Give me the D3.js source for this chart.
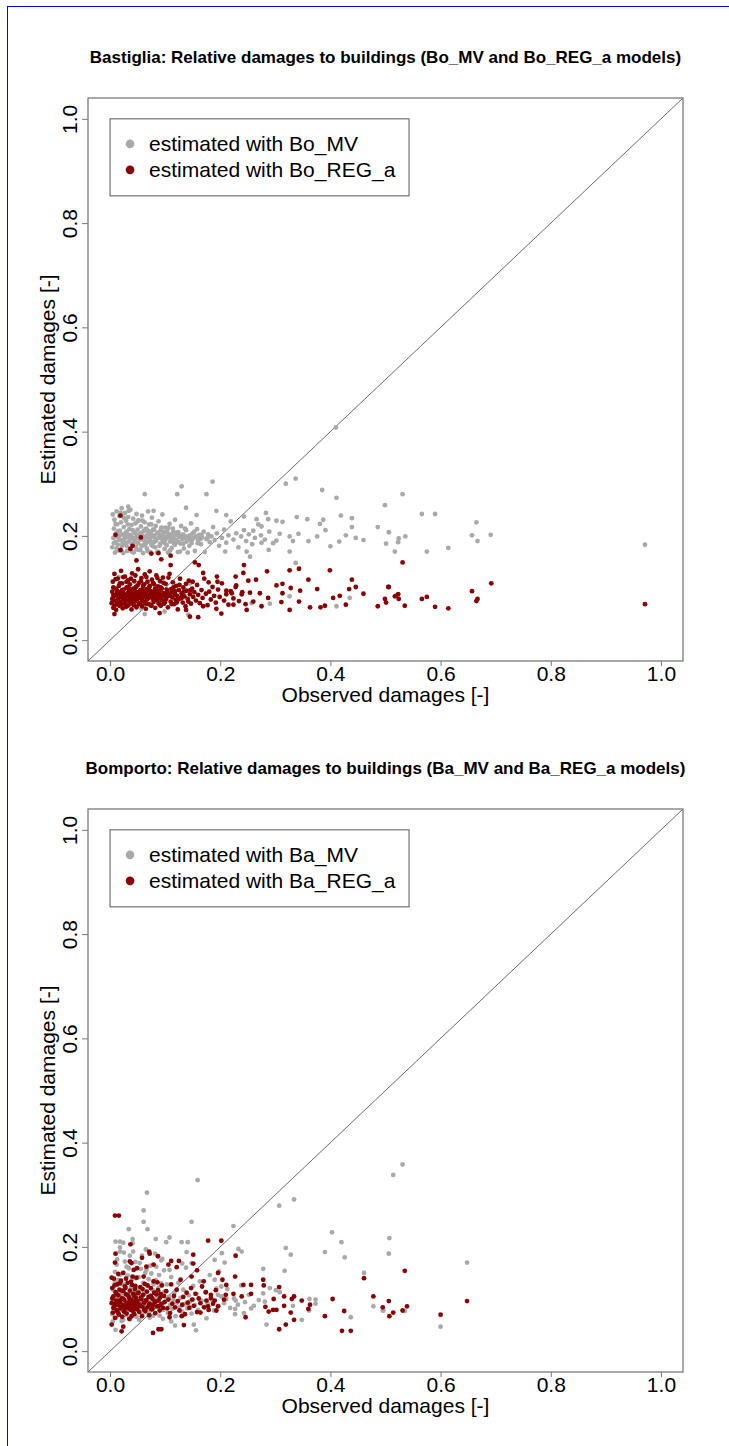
<!DOCTYPE html>
<html>
<head>
<meta charset="utf-8">
<script src="https://cdn.jsdelivr.net/npm/d3@7"></script>
<style>
  body { margin: 0; background: #fff; }
  svg text { font-family: "Liberation Sans", Arial, sans-serif; fill: #000; }
</style>
</head>
<body>
<div id="chart"></div>
<script>
// Bastiglia panel: observed vs estimated relative damage
const boMvPoints = [
  [0.004,0.178],[0.006,0.196],[0.007,0.214],[0.008,0.231],[0.009,0.168],[0.010,0.188],[0.011,0.205],[0.012,0.247],[0.013,0.222],[0.014,0.183],
  [0.015,0.199],[0.016,0.172],[0.017,0.238],[0.018,0.210],[0.019,0.192],[0.020,0.226],[0.021,0.253],[0.022,0.181],[0.023,0.203],[0.024,0.167],
  [0.025,0.217],[0.026,0.194],[0.027,0.244],[0.028,0.186],[0.029,0.229],[0.030,0.208],[0.031,0.171],[0.032,0.198],[0.033,0.236],[0.034,0.189],
  [0.035,0.213],[0.036,0.176],[0.037,0.250],[0.038,0.201],[0.039,0.221],[0.040,0.184],[0.041,0.195],[0.042,0.233],[0.043,0.168],[0.044,0.207],
  [0.045,0.190],[0.046,0.224],[0.047,0.179],[0.048,0.242],[0.049,0.198],[0.050,0.212],[0.051,0.186],[0.052,0.230],[0.053,0.173],[0.054,0.204],
  [0.055,0.193],[0.056,0.218],[0.057,0.181],[0.058,0.239],[0.059,0.200],[0.060,0.167],[0.061,0.209],[0.062,0.191],[0.063,0.226],[0.064,0.184],
  [0.065,0.197],[0.066,0.214],[0.067,0.176],[0.068,0.203],[0.069,0.247],[0.070,0.189],[0.071,0.222],[0.072,0.195],[0.073,0.169],[0.074,0.207],
  [0.075,0.183],[0.076,0.235],[0.077,0.199],[0.078,0.212],[0.079,0.188],[0.080,0.201],[0.082,0.178],[0.083,0.219],[0.084,0.193],[0.086,0.206],
  [0.087,0.170],[0.088,0.228],[0.089,0.196],[0.091,0.185],[0.092,0.211],[0.093,0.199],[0.095,0.241],[0.096,0.188],[0.097,0.204],[0.099,0.175],
  [0.100,0.216],[0.101,0.194],[0.103,0.182],[0.104,0.208],[0.105,0.168],[0.107,0.197],[0.108,0.223],[0.109,0.189],[0.111,0.203],[0.112,0.177],
  [0.114,0.214],[0.115,0.195],[0.116,0.186],[0.118,0.231],[0.119,0.201],[0.121,0.192],[0.123,0.169],[0.124,0.207],[0.126,0.198],[0.128,0.185],
  [0.129,0.219],[0.131,0.194],[0.133,0.203],[0.134,0.176],[0.136,0.197],[0.138,0.211],[0.139,0.189],[0.141,0.168],[0.143,0.200],[0.145,0.193],
  [0.147,0.224],[0.148,0.186],[0.150,0.205],[0.152,0.196],[0.154,0.171],[0.156,0.199],[0.158,0.213],[0.160,0.191],[0.162,0.202],[0.165,0.184],
  [0.167,0.197],[0.170,0.208],[0.172,0.169],[0.175,0.194],[0.178,0.203],[0.181,0.188],[0.184,0.199],[0.187,0.217],[0.190,0.192],[0.194,0.205],
  [0.198,0.181],[0.009,0.199],[0.018,0.201],[0.027,0.197],[0.035,0.202],[0.044,0.196],[0.053,0.200],[0.062,0.198],[0.071,0.203],[0.081,0.197],
  [0.090,0.200],[0.098,0.195],[0.106,0.201],[0.113,0.198],[0.125,0.200],[0.137,0.196],[0.146,0.201],[0.157,0.198],[0.166,0.202],[0.177,0.196],
  [0.005,0.241],[0.007,0.186],[0.010,0.223],[0.012,0.176],[0.014,0.209],[0.016,0.193],[0.019,0.244],[0.021,0.171],[0.023,0.186],[0.025,0.235],
  [0.028,0.205],[0.030,0.181],[0.032,0.222],[0.034,0.248],[0.036,0.194],[0.039,0.170],[0.041,0.211],[0.043,0.187],[0.046,0.205],[0.048,0.174],
  [0.050,0.228],[0.052,0.195],[0.055,0.173],[0.057,0.206],[0.059,0.229],[0.061,0.182],[0.064,0.213],[0.066,0.188],[0.068,0.171],[0.070,0.209],
  [0.073,0.192],[0.075,0.222],[0.078,0.180],[0.080,0.212],[0.083,0.190],[0.085,0.168],[0.088,0.205],[0.090,0.181],[0.093,0.216],[0.095,0.193],
  [0.098,0.207],[0.100,0.186],[0.103,0.198],[0.106,0.215],[0.109,0.172],[0.112,0.193],[0.115,0.208],[0.118,0.183],[0.121,0.206],[0.124,0.188],
  [0.127,0.170],[0.130,0.201],[0.133,0.185],[0.136,0.214],[0.140,0.199],[0.144,0.181],[0.149,0.193],[0.153,0.208],[0.159,0.186],[0.164,0.194],
  [0.203,0.196],[0.207,0.212],[0.211,0.187],[0.215,0.201],[0.219,0.228],[0.224,0.193],[0.229,0.205],[0.233,0.178],[0.238,0.199],[0.243,0.211],
  [0.247,0.190],[0.252,0.203],[0.258,0.184],[0.263,0.196],[0.269,0.222],[0.274,0.201],[0.281,0.193],[0.289,0.208],[0.296,0.186],
  [0.410,0.408],[0.186,0.304],[0.130,0.295],[0.063,0.280],[0.122,0.280],[0.175,0.280],[0.319,0.300],[0.337,0.310],[0.385,0.288],[0.411,0.273],
  [0.033,0.256],[0.138,0.254],[0.193,0.248],[0.079,0.248],[0.283,0.244],[0.243,0.237],[0.211,0.240],[0.157,0.240],[0.266,0.232],[0.287,0.232],
  [0.302,0.229],[0.313,0.227],[0.339,0.236],[0.358,0.232],[0.387,0.231],[0.419,0.239],[0.439,0.234],[0.381,0.223],[0.486,0.217],[0.439,0.217],
  [0.391,0.211],[0.275,0.218],[0.260,0.210],[0.308,0.204],[0.326,0.199],[0.342,0.204],[0.376,0.199],[0.428,0.201],[0.446,0.196],[0.460,0.192],
  [0.360,0.190],[0.332,0.190],[0.302,0.191],[0.275,0.187],[0.416,0.189],[0.400,0.180],[0.326,0.170],[0.288,0.173],[0.248,0.170],[0.209,0.170],
  [0.254,0.160],[0.337,0.148],[0.063,0.050],[0.099,0.055],[0.142,0.049],[0.145,0.109],[0.257,0.071],[0.290,0.070],[0.326,0.084],[0.411,0.065],
  [0.435,0.081],[0.016,0.121],[0.057,0.060],
  [0.499,0.259],[0.531,0.280],[0.566,0.242],[0.590,0.242],[0.665,0.226],[0.506,0.207],[0.501,0.185],[0.524,0.195],[0.523,0.188],[0.536,0.199],
  [0.517,0.170],[0.575,0.170],[0.614,0.177],[0.657,0.201],[0.667,0.190],[0.691,0.202],[0.971,0.183]
];
const boRegPoints = [
  [0.003,0.071],[0.004,0.093],[0.005,0.112],[0.006,0.062],[0.007,0.084],[0.008,0.127],[0.009,0.076],[0.010,0.099],[0.011,0.058],[0.012,0.088],
  [0.013,0.069],[0.014,0.118],[0.015,0.081],[0.016,0.104],[0.017,0.066],[0.018,0.091],[0.019,0.074],[0.020,0.133],[0.021,0.086],[0.022,0.109],
  [0.023,0.061],[0.024,0.079],[0.025,0.097],[0.026,0.070],[0.027,0.122],[0.028,0.083],[0.029,0.064],[0.030,0.101],[0.031,0.077],[0.032,0.090],
  [0.033,0.115],[0.034,0.068],[0.035,0.085],[0.036,0.107],[0.037,0.073],[0.038,0.095],[0.039,0.059],[0.040,0.128],[0.041,0.082],[0.042,0.099],
  [0.043,0.067],[0.044,0.113],[0.045,0.088],[0.046,0.075],[0.047,0.102],[0.048,0.063],[0.049,0.092],[0.050,0.079],[0.051,0.136],[0.052,0.086],
  [0.053,0.110],[0.054,0.071],[0.055,0.096],[0.056,0.081],[0.057,0.119],[0.058,0.065],[0.059,0.089],[0.060,0.104],[0.061,0.074],[0.062,0.093],
  [0.063,0.126],[0.064,0.083],[0.065,0.060],[0.066,0.098],[0.067,0.078],[0.068,0.112],[0.069,0.087],[0.070,0.069],[0.071,0.101],[0.072,0.132],
  [0.073,0.084],[0.074,0.094],[0.075,0.066],[0.076,0.116],[0.077,0.080],[0.078,0.091],[0.079,0.073],[0.080,0.107],[0.081,0.085],[0.082,0.062],
  [0.083,0.097],[0.084,0.124],[0.085,0.077],[0.086,0.089],[0.087,0.103],[0.088,0.071],[0.089,0.094],[0.090,0.082],[0.091,0.113],[0.092,0.066],
  [0.093,0.087],[0.094,0.099],[0.095,0.076],[0.096,0.120],[0.097,0.090],[0.098,0.070],[0.099,0.084],[0.101,0.108],[0.102,0.079],[0.104,0.093],
  [0.105,0.063],[0.107,0.086],[0.108,0.127],[0.110,0.074],[0.111,0.098],[0.113,0.082],[0.114,0.111],[0.116,0.069],[0.117,0.091],[0.119,0.077],
  [0.120,0.104],[0.122,0.085],[0.123,0.059],[0.125,0.096],[0.127,0.118],[0.128,0.080],[0.130,0.090],[0.132,0.072],[0.133,0.101],[0.135,0.084],
  [0.137,0.065],[0.139,0.095],[0.141,0.079],[0.143,0.114],[0.145,0.088],[0.147,0.070],[0.149,0.099],[0.151,0.083],[0.153,0.092],[0.156,0.076],
  [0.158,0.106],[0.160,0.087],[0.163,0.071],[0.166,0.096],[0.168,0.081],[0.171,0.118],[0.174,0.089],[0.177,0.067],[0.180,0.093],[0.183,0.078],
  [0.186,0.102],[0.189,0.085],[0.192,0.072],[0.196,0.097],[0.199,0.083],[0.203,0.109],[0.207,0.076],[0.211,0.088],[0.215,0.068],[0.219,0.094],
  [0.224,0.080],[0.229,0.105],[0.234,0.075],[0.240,0.092],[0.246,0.069],
  [0.006,0.087],[0.013,0.095],[0.019,0.083],[0.024,0.090],[0.029,0.086],[0.034,0.094],[0.041,0.078],[0.046,0.091],[0.053,0.084],[0.058,0.097],
  [0.064,0.089],[0.069,0.080],[0.074,0.088],[0.081,0.095],[0.087,0.083],[0.093,0.078],[0.100,0.090],[0.106,0.085],[0.112,0.092],[0.118,0.087],
  [0.124,0.078],[0.131,0.086],
  [0.004,0.079],[0.006,0.101],[0.008,0.066],[0.010,0.117],[0.012,0.074],[0.014,0.092],[0.016,0.083],[0.018,0.109],[0.020,0.068],[0.022,0.096],
  [0.024,0.121],[0.026,0.087],[0.028,0.074],[0.030,0.112],[0.032,0.066],[0.034,0.101],[0.036,0.080],[0.038,0.118],[0.040,0.089],[0.042,0.071],
  [0.044,0.097],[0.046,0.124],[0.048,0.083],[0.050,0.105],[0.052,0.069],[0.054,0.092],[0.056,0.113],[0.058,0.078],[0.060,0.088],[0.062,0.107],
  [0.064,0.070],[0.066,0.121],[0.068,0.095],[0.070,0.083],[0.072,0.104],[0.074,0.067],[0.076,0.091],[0.078,0.110],[0.080,0.077],[0.082,0.099],
  [0.084,0.086],[0.086,0.119],[0.088,0.093],[0.090,0.068],[0.092,0.101],[0.095,0.086],[0.097,0.110],[0.100,0.073],[0.103,0.097],[0.106,0.120],
  [0.109,0.088],[0.112,0.069],[0.115,0.101],[0.118,0.094],[0.121,0.072],[0.126,0.106],[0.130,0.081],[0.134,0.093],[0.138,0.108],[0.142,0.074],
  [0.146,0.096],[0.150,0.112],
  [0.019,0.239],[0.010,0.202],[0.056,0.197],[0.019,0.173],[0.037,0.175],[0.041,0.181],[0.075,0.166],[0.088,0.167],[0.048,0.153],[0.093,0.155],
  [0.110,0.162],[0.154,0.149],[0.161,0.144],[0.110,0.144],[0.243,0.144],[0.285,0.132],[0.326,0.134],[0.343,0.137],[0.399,0.134],[0.242,0.129],
  [0.228,0.122],[0.194,0.122],[0.169,0.129],[0.179,0.111],[0.195,0.112],[0.251,0.114],[0.265,0.116],[0.302,0.105],[0.313,0.108],[0.328,0.100],
  [0.360,0.116],[0.376,0.098],[0.439,0.116],[0.434,0.098],[0.446,0.102],[0.460,0.089],[0.505,0.102],[0.211,0.095],[0.228,0.102],[0.221,0.090],
  [0.239,0.088],[0.254,0.091],[0.272,0.090],[0.287,0.081],[0.313,0.090],[0.345,0.095],[0.343,0.074],[0.311,0.073],[0.326,0.058],[0.363,0.063],
  [0.382,0.063],[0.390,0.066],[0.405,0.081],[0.417,0.085],[0.428,0.068],[0.486,0.065],[0.519,0.085],[0.260,0.074],[0.275,0.065],[0.248,0.058],
  [0.193,0.060],[0.202,0.051],[0.160,0.044],[0.145,0.045],[0.138,0.058],[0.169,0.065],[0.008,0.050],[0.090,0.052],[0.224,0.068],
  [0.531,0.149],[0.506,0.102],[0.692,0.109],[0.657,0.094],[0.499,0.079],[0.501,0.072],[0.517,0.084],[0.523,0.088],[0.524,0.079],[0.535,0.066],
  [0.566,0.079],[0.575,0.083],[0.590,0.064],[0.614,0.061],[0.665,0.075],[0.667,0.079],[0.971,0.069]
];

// Bomporto panel
const baMvPoints = [
  [0.004,0.071],[0.006,0.118],[0.008,0.093],[0.009,0.152],[0.011,0.064],[0.012,0.105],[0.014,0.083],[0.015,0.136],[0.017,0.077],[0.018,0.199],
  [0.020,0.112],[0.021,0.058],[0.023,0.094],[0.024,0.128],[0.026,0.086],[0.027,0.172],[0.029,0.069],[0.030,0.108],[0.032,0.145],[0.033,0.081],
  [0.035,0.099],[0.036,0.061],[0.038,0.123],[0.039,0.090],[0.041,0.207],[0.042,0.074],[0.044,0.114],[0.045,0.097],[0.047,0.140],[0.048,0.066],
  [0.050,0.087],[0.051,0.119],[0.053,0.078],[0.054,0.101],[0.056,0.158],[0.057,0.092],[0.059,0.070],[0.060,0.131],[0.062,0.084],[0.063,0.110],
  [0.065,0.195],[0.066,0.075],[0.068,0.098],[0.069,0.125],[0.071,0.088],[0.072,0.064],[0.074,0.106],[0.075,0.149],[0.077,0.082],[0.078,0.117],
  [0.080,0.093],[0.082,0.072],[0.083,0.136],[0.085,0.101],[0.087,0.086],[0.088,0.122],[0.090,0.068],[0.092,0.109],[0.094,0.091],[0.095,0.177],
  [0.097,0.079],[0.099,0.114],[0.101,0.097],[0.103,0.128],[0.105,0.073],[0.107,0.104],[0.109,0.088],[0.111,0.142],[0.113,0.081],[0.115,0.099],
  [0.117,0.112],[0.119,0.067],[0.121,0.093],[0.124,0.131],[0.126,0.084],[0.128,0.102],[0.131,0.076],[0.133,0.118],[0.135,0.090],[0.138,0.160],
  [0.140,0.082],[0.143,0.107],[0.145,0.095],[0.148,0.072],[0.151,0.125],[0.154,0.088],[0.157,0.110],[0.160,0.079],[0.163,0.134],[0.166,0.097],
  [0.170,0.085],[0.173,0.113],[0.177,0.091],[0.181,0.146],[0.185,0.099],[0.189,0.078],[0.193,0.120],[0.197,0.087],[0.202,0.105],[0.207,0.092],
  [0.213,0.119],[0.218,0.083],[0.225,0.101],[0.232,0.089],[0.238,0.126],[0.245,0.094],[0.252,0.108],[0.261,0.087],[0.270,0.098],
  [0.005,0.098],[0.009,0.131],[0.013,0.176],[0.016,0.088],[0.019,0.147],[0.022,0.105],[0.025,0.189],[0.028,0.124],[0.031,0.076],[0.034,0.159],
  [0.037,0.107],[0.040,0.138],[0.043,0.085],[0.046,0.171],[0.049,0.112],[0.052,0.142],[0.055,0.095],[0.058,0.183],[0.061,0.116],[0.064,0.150],
  [0.067,0.090],[0.070,0.138],[0.073,0.164],[0.076,0.099],[0.079,0.128],[0.082,0.187],[0.086,0.110],[0.089,0.146],[0.093,0.130],[0.098,0.155],
  [0.159,0.328],[0.067,0.304],[0.061,0.270],[0.061,0.248],[0.068,0.234],[0.148,0.248],[0.034,0.234],[0.224,0.240],[0.307,0.279],[0.334,0.291],
  [0.403,0.228],[0.420,0.209],[0.390,0.190],[0.426,0.180],[0.319,0.198],[0.328,0.185],[0.317,0.154],[0.461,0.150],[0.278,0.158],[0.233,0.196],
  [0.239,0.191],[0.203,0.188],[0.190,0.175],[0.208,0.170],[0.139,0.190],[0.131,0.168],[0.102,0.209],[0.108,0.218],[0.130,0.209],[0.141,0.209],
  [0.083,0.215],[0.010,0.210],[0.018,0.210],[0.024,0.208],[0.041,0.215],[0.036,0.183],[0.042,0.191],[0.018,0.191],[0.278,0.111],[0.284,0.051],
  [0.290,0.121],[0.301,0.117],[0.308,0.113],[0.281,0.095],[0.332,0.087],[0.348,0.060],[0.362,0.100],[0.373,0.099],[0.361,0.078],[0.373,0.091],
  [0.437,0.065],[0.478,0.086],[0.496,0.078],[0.243,0.073],[0.256,0.082],[0.227,0.081],[0.227,0.071],[0.228,0.097],[0.211,0.100],[0.175,0.063],
  [0.156,0.040],[0.152,0.051],[0.133,0.069],[0.118,0.049],[0.111,0.057],[0.096,0.062],[0.078,0.068],[0.053,0.060],[0.036,0.063],[0.024,0.060],
  [0.010,0.041],[0.005,0.057],[0.068,0.076],[0.143,0.086],[0.151,0.099],[0.196,0.108],[0.202,0.124],[0.198,0.153],[0.190,0.137],[0.148,0.169],
  [0.093,0.174],[0.108,0.156],[0.066,0.156],[0.054,0.169],[0.030,0.162],[0.012,0.166],[0.084,0.162],
  [0.531,0.358],[0.514,0.338],[0.507,0.217],[0.506,0.187],[0.648,0.170],[0.495,0.078],[0.535,0.077],[0.600,0.047]
];
const baRegPoints = [
  [0.003,0.092],[0.004,0.121],[0.005,0.074],[0.006,0.105],[0.007,0.139],[0.008,0.086],[0.009,0.064],[0.010,0.113],[0.011,0.097],[0.012,0.078],
  [0.013,0.128],[0.014,0.089],[0.015,0.107],[0.016,0.070],[0.017,0.118],[0.018,0.094],[0.019,0.082],[0.020,0.135],[0.021,0.101],[0.022,0.066],
  [0.023,0.088],[0.024,0.115],[0.025,0.076],[0.026,0.098],[0.027,0.124],[0.028,0.084],[0.029,0.109],[0.030,0.072],[0.031,0.093],[0.032,0.131],
  [0.033,0.086],[0.034,0.104],[0.035,0.062],[0.036,0.116],[0.037,0.090],[0.038,0.079],[0.039,0.099],[0.040,0.127],[0.041,0.083],[0.042,0.110],
  [0.043,0.095],[0.044,0.071],[0.045,0.119],[0.046,0.087],[0.047,0.102],[0.048,0.141],[0.049,0.080],[0.050,0.096],[0.052,0.112],[0.053,0.075],
  [0.054,0.089],[0.055,0.123],[0.057,0.100],[0.058,0.067],[0.059,0.085],[0.060,0.108],[0.062,0.093],[0.063,0.129],[0.064,0.077],[0.066,0.098],
  [0.067,0.114],[0.068,0.084],[0.070,0.104],[0.071,0.069],[0.072,0.091],[0.074,0.121],[0.075,0.080],[0.077,0.101],[0.078,0.088],[0.079,0.134],
  [0.081,0.095],[0.082,0.073],[0.084,0.109],[0.085,0.086],[0.087,0.117],[0.088,0.097],[0.090,0.078],[0.091,0.103],[0.093,0.090],[0.094,0.126],
  [0.096,0.083],[0.098,0.106],[0.099,0.094],[0.102,0.115],[0.104,0.082],[0.106,0.099],[0.109,0.073],[0.111,0.128],[0.113,0.091],[0.116,0.106],
  [0.118,0.084],[0.121,0.118],[0.123,0.096],[0.126,0.078],[0.128,0.137],[0.131,0.089],[0.133,0.104],[0.136,0.071],[0.139,0.112],[0.141,0.093],
  [0.144,0.083],[0.147,0.121],[0.149,0.099],[0.152,0.087],[0.155,0.110],[0.158,0.075],[0.161,0.101],[0.164,0.092],[0.167,0.124],[0.171,0.084],
  [0.175,0.097],[0.179,0.079],[0.183,0.108],[0.187,0.091],[0.192,0.117],[0.196,0.086],
  [0.004,0.101],[0.006,0.083],[0.008,0.126],[0.010,0.092],[0.012,0.110],[0.014,0.074],[0.016,0.097],[0.018,0.130],[0.020,0.085],[0.022,0.116],
  [0.024,0.100],[0.026,0.078],[0.028,0.121],[0.030,0.091],[0.032,0.108],[0.034,0.082],[0.036,0.099],[0.038,0.133],[0.040,0.092],[0.042,0.077],
  [0.044,0.106],[0.046,0.125],[0.048,0.094],[0.050,0.111],[0.053,0.086],[0.056,0.103],[0.059,0.119],[0.062,0.079],[0.065,0.097],[0.068,0.126],
  [0.071,0.089],[0.074,0.106],[0.077,0.081],[0.080,0.112],[0.083,0.095],[0.086,0.132],[0.089,0.087],[0.092,0.110],
  [0.009,0.260],[0.016,0.260],[0.037,0.205],[0.010,0.187],[0.071,0.191],[0.072,0.187],[0.087,0.182],[0.058,0.179],[0.036,0.172],[0.039,0.169],
  [0.009,0.170],[0.066,0.162],[0.079,0.166],[0.111,0.173],[0.125,0.173],[0.106,0.166],[0.121,0.161],[0.049,0.159],[0.043,0.156],[0.015,0.148],
  [0.024,0.150],[0.003,0.141],[0.029,0.139],[0.041,0.143],[0.061,0.143],[0.151,0.185],[0.151,0.168],[0.158,0.155],[0.148,0.143],[0.178,0.212],
  [0.202,0.212],[0.228,0.183],[0.196,0.150],[0.170,0.134],[0.204,0.137],[0.211,0.127],[0.227,0.143],[0.242,0.127],[0.256,0.127],[0.278,0.137],
  [0.279,0.126],[0.307,0.123],[0.256,0.110],[0.239,0.105],[0.224,0.110],[0.210,0.108],[0.207,0.099],[0.183,0.102],[0.190,0.097],[0.174,0.113],
  [0.193,0.078],[0.178,0.086],[0.164,0.074],[0.246,0.065],[0.282,0.085],[0.288,0.076],[0.296,0.079],[0.302,0.079],[0.297,0.100],[0.316,0.105],
  [0.316,0.087],[0.328,0.074],[0.330,0.100],[0.334,0.105],[0.348,0.097],[0.334,0.060],[0.307,0.042],[0.319,0.051],[0.363,0.089],[0.360,0.081],
  [0.390,0.067],[0.404,0.100],[0.425,0.077],[0.421,0.039],[0.437,0.039],[0.461,0.140],[0.478,0.105],[0.495,0.084],[0.506,0.096],[0.507,0.067],
  [0.514,0.074],[0.078,0.035],[0.088,0.042],[0.093,0.042],[0.039,0.067],[0.021,0.038],[0.024,0.047],[0.003,0.051],[0.108,0.065],[0.130,0.067],
  [0.134,0.050],
  [0.535,0.154],[0.531,0.078],[0.539,0.086],[0.600,0.070],[0.648,0.096]
];

const axisTicks = [0, 0.2, 0.4, 0.6, 0.8, 1.0];

const panels = [
  {
    title: "Bastiglia: Relative damages to buildings (Bo_MV and Bo_REG_a models)",
    mv: boMvPoints, reg: boRegPoints,
    legend: ["estimated with Bo_MV", "estimated with Bo_REG_a"],
    top: 98, bottom: 661
  },
  {
    title: "Bomporto: Relative damages to buildings (Ba_MV and Ba_REG_a models)",
    mv: baMvPoints, reg: baRegPoints,
    legend: ["estimated with Ba_MV", "estimated with Ba_REG_a"],
    top: 809, bottom: 1372
  }
];

const W = 729, H = 1446;
const left = 88, right = 683;
const grey = "#a9a9a9", darkred = "#8b0000";

const svg = d3.select("#chart").append("svg")
  .attr("width", W).attr("height", H);

// blue frame of the captured figure
svg.append("line").attr("x1", 7.5).attr("x2", 7.5).attr("y1", 6).attr("y2", H)
  .attr("stroke", "#0000ff").attr("stroke-width", 1);
svg.append("line").attr("x1", 7).attr("x2", W).attr("y1", 6.5).attr("y2", 6.5)
  .attr("stroke", "#0000ff").attr("stroke-width", 1);

panels.forEach((p) => {
  const x = d3.scaleLinear().domain([-0.04, 1.04]).range([left, right]);
  const y = d3.scaleLinear().domain([-0.04, 1.04]).range([p.bottom, p.top]);
  const g = svg.append("g");

  // title
  g.append("text")
    .attr("x", (left + right) / 2)
    .attr("y", p.top - 35)
    .attr("text-anchor", "middle")
    .style("font-size", "17px")
    .style("font-weight", "bold")
    .text(p.title);

  // 1:1 line
  g.append("line")
    .attr("x1", x(-0.04)).attr("y1", y(-0.04))
    .attr("x2", x(1.04)).attr("y2", y(1.04))
    .attr("stroke", "#444").attr("stroke-width", 0.8);

  // points
  g.append("g").selectAll("circle").data(p.mv).join("circle")
    .attr("cx", (d) => x(d[0])).attr("cy", (d) => y(d[1]))
    .attr("r", 2.4).attr("fill", grey);
  g.append("g").selectAll("circle").data(p.reg).join("circle")
    .attr("cx", (d) => x(d[0])).attr("cy", (d) => y(d[1]))
    .attr("r", 2.4).attr("fill", darkred);

  // frame
  g.append("rect")
    .attr("x", left).attr("y", p.top)
    .attr("width", right - left).attr("height", p.bottom - p.top)
    .attr("fill", "none").attr("stroke", "#7a7a7a").attr("stroke-width", 1.3);

  // x axis
  const xAxis = g.append("g")
    .attr("transform", `translate(0,${p.bottom})`)
    .call(d3.axisBottom(x).tickValues(axisTicks).tickFormat(d3.format(".1f"))
      .tickSize(5).tickPadding(0));
  xAxis.select(".domain").remove();
  xAxis.selectAll("line").attr("stroke", "#7a7a7a");
  xAxis.selectAll("text").style("font-size", "21px");

  // y axis, labels rotated as in R
  const yAxis = g.append("g")
    .attr("transform", `translate(${left},0)`)
    .call(d3.axisLeft(y).tickValues(axisTicks).tickFormat(d3.format(".1f"))
      .tickSize(6));
  yAxis.select(".domain").remove();
  yAxis.selectAll("line").attr("stroke", "#7a7a7a");
  yAxis.selectAll("text")
    .attr("transform", "rotate(-90)")
    .attr("x", 0).attr("y", -11.5).attr("dy", 0)
    .attr("text-anchor", "middle")
    .style("font-size", "21px");

  // axis titles
  g.append("text")
    .attr("x", (left + right) / 2)
    .attr("y", p.bottom + 41)
    .attr("text-anchor", "middle")
    .style("font-size", "21px")
    .text("Observed damages [-]");
  g.append("text")
    .attr("transform", `translate(55,${(p.top + p.bottom) / 2}) rotate(-90)`)
    .attr("text-anchor", "middle")
    .style("font-size", "21px")
    .text("Estimated damages [-]");

  // legend
  const lx = x(0), ly = y(1);
  const lg = g.append("g").attr("transform", `translate(${lx},${ly})`);
  lg.append("rect")
    .attr("width", 299).attr("height", 77)
    .attr("fill", "#fff").attr("stroke", "#555").attr("stroke-width", 1);
  [grey, darkred].forEach((c, i) => {
    lg.append("circle").attr("cx", 20).attr("cy", 25 + i * 26)
      .attr("r", 4.3).attr("fill", c);
    lg.append("text").attr("x", 39).attr("y", 25 + i * 26 + 7.5)
      .style("font-size", "21px").text(p.legend[i]);
  });
});
</script>
</body>
</html>
